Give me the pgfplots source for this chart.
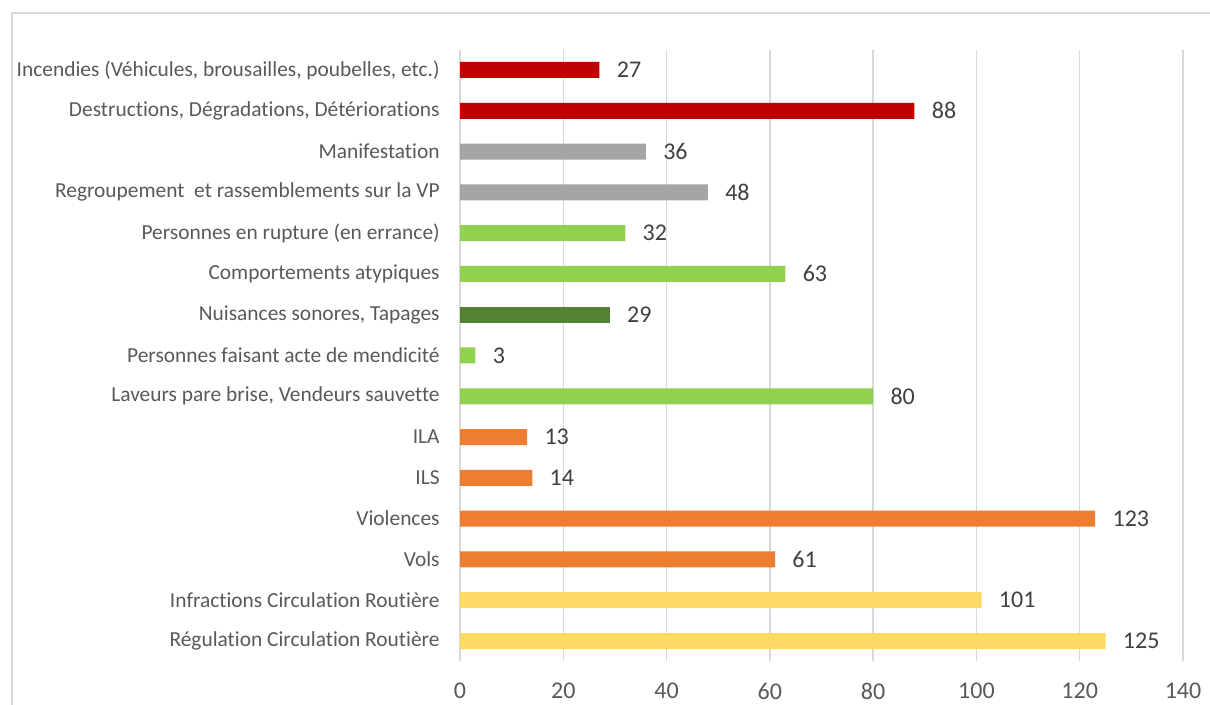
\documentclass[border=0pt]{standalone}
\usepackage{pgfplots}
\pgfplotsset{compat=1.18}
\usepackage{fontspec}
\setmainfont{Carlito}[RawFeature={-liga;-clig;-dlig;-calt}]
\definecolor{cRed}{HTML}{C00000}
\definecolor{cGray}{HTML}{A5A5A5}
\definecolor{cLGreen}{HTML}{92D050}
\definecolor{cDGreen}{HTML}{548235}
\definecolor{cOrange}{HTML}{ED7D31}
\definecolor{cYellow}{HTML}{FFD966}
\definecolor{cGrid}{HTML}{D9D9D9}
\definecolor{cLabel}{HTML}{595959}
\definecolor{cVal}{HTML}{404040}
\begin{document}
\begin{tikzpicture}
\useasboundingbox (0,0) rectangle (605pt,352.5pt);
\draw[cGrid, line width=0.75pt] (6pt,-10pt) -- (6pt,346pt) -- (620pt,346pt);
\begin{axis}[
  at={(230pt,21.8pt)}, anchor=south west,
  scale only axis, width=361.5pt, height=305.9pt,
  xbar, bar width=8pt, bar shift=0pt,
  xmin=0, xmax=140, ymin=-0.5, ymax=14.5,
  xtick={0,20,...,140},
  ytick={0,...,14},
  yticklabels={{Régulation Circulation Routière\ },{Infractions Circulation Routière},{Vols},{Violences},{ILS},{ILA},{Laveurs pare brise, Vendeurs sauvette},{Personnes faisant acte de mendicité},{Nuisances sonores, Tapages},{Comportements atypiques},{Personnes en rupture (en errance)},{Regroupement\ \ et rassemblements sur la VP},{Manifestation},{Destructions, Dégradations, Détériorations},{Incendies (Véhicules, brousailles, poubelles, etc.)}},
  axis line style={draw=none},
  major tick length=0pt,
  xmajorgrids, grid style={cGrid, line width=0.75pt},
  xticklabel style={anchor=center, yshift=-14.8pt, font=\fontsize{12pt}{14pt}\selectfont, text=cLabel},
  yticklabel style={anchor=east, inner sep=0pt, xshift=-10pt, font=\fontsize{10.7pt}{12pt}\selectfont, text=cLabel},
  /pgf/number format/assume math mode=true,
  point meta=x,
  nodes near coords,
  every node near coord/.append style={anchor=west, inner sep=0pt, xshift=8.5pt, font=\fontsize{12pt}{14pt}\selectfont, text=cVal},
  clip=false,
]
\addplot[fill=cYellow, draw=none] coordinates {(125,0) (101,1)};
\addplot[fill=cOrange, draw=none] coordinates {(61,2) (123,3) (14,4) (13,5)};
\addplot[fill=cLGreen, draw=none] coordinates {(80,6) (3,7) (63,9) (32,10)};
\addplot[fill=cDGreen, draw=none] coordinates {(29,8)};
\addplot[fill=cGray, draw=none] coordinates {(48,11) (36,12)};
\addplot[fill=cRed, draw=none] coordinates {(88,13) (27,14)};
\end{axis}
\end{tikzpicture}
\end{document}
